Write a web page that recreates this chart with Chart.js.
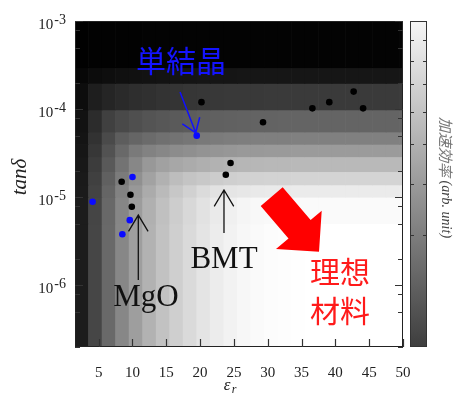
<!DOCTYPE html>
<html>
<head>
<meta charset="utf-8">
<script src="https://cdn.jsdelivr.net/npm/chart.js@4/dist/chart.umd.min.js"></script>
<style>html,body{margin:0;padding:0;background:#fff;}</style>
</head>
<body>
<canvas id="chart" width="461" height="397"></canvas>
<script>
// map cells: eps_r columns (2 wide) and tan-delta rows, grey level
const colCenters = [2.5, 4.5, 6.5, 8.5, 10.5, 12.5, 14.5, 16.5, 18.5, 20.5, 22.5, 24.5, 26.5,
                    28.5, 30.5, 32.5, 34.5, 36.5, 38.5, 40.5, 42.5, 44.5, 46.5, 48.5, 50.5];
const colLevel = [28, 70, 105, 135, 158, 178, 194, 207, 218, 228, 236, 242, 247,
                  250, 252, 253, 254, 255, 255, 255, 255, 255, 255, 255, 255];
const rowTop = [1e-3, 2.95e-4, 1.95e-4, 9.8e-5, 5.5e-5, 3.98e-5, 2.88e-5, 1.95e-5, 1.38e-5, 1e-5, 5e-6];
const rowLevel = [3, 22, 58, 100, 128, 155, 185, 212, 235, 250, 255];

// measured materials
const blackEps = [20.2, 24.5, 23.8, 8.4, 9.7, 9.9, 29.3, 36.6, 39.1, 42.7, 44.1];
const blackTan = [1.2e-4, 2.45e-5, 1.8e-5, 1.5e-5, 1.07e-5, 7.8e-6, 7.1e-5, 1.02e-4, 1.2e-4, 1.58e-4, 1.02e-4];
const blueEps = [19.5, 10.0, 4.1, 9.6, 8.5];
const blueTan = [5.0e-5, 1.7e-5, 8.9e-6, 5.5e-6, 3.8e-6];

// axes
const xTicks = [5, 10, 15, 20, 25, 30, 35, 40, 45, 50];
const yMajor = [1e-6, 1e-5, 1e-4, 1e-3];
const yMinor = [2e-7, 5e-7, 8e-7, 2e-6, 5e-6, 8e-6, 2e-5, 5e-5, 8e-5, 2e-4, 5e-4, 8e-4];
const cbTicks = [3, 4, 5, 6, 7, 8, 9];
const cbGrey = [62, 246]; // bottom, top

const X_MIN = 1.5, X_MAX = 50, Y_MIN = 2e-7, Y_MAX = 1e-3;

function grey(v) {
    v = Math.round(v);
    return `rgb(${v},${v},${v})`;
}

// a cell is limited by the darker of its column / row level
function cellLevel(c, r) {
    return Math.min(c, r) * Math.sqrt(Math.max(c, r) / 255);
}

const datasets = [];

datasets.push({
    type: 'scatter',
    data: blackEps.map((e, i) => ({x: e, y: blackTan[i]})),
    backgroundColor: '#000',
    borderWidth: 0,
    pointRadius: 3.3,
    order: 0
});
datasets.push({
    type: 'scatter',
    data: blueEps.map((e, i) => ({x: e, y: blueTan[i]})),
    backgroundColor: '#0a0aff',
    borderWidth: 0,
    pointRadius: 3.3,
    order: 0
});

rowTop.forEach((top, j) => {
    const bottom = j + 1 < rowTop.length ? rowTop[j + 1] : Y_MIN;
    datasets.push({
        type: 'bar',
        data: colCenters.map(x => ({x: x, y: [bottom, top]})),
        backgroundColor: colLevel.map(c => grey(cellLevel(c, rowLevel[j]))),
        borderWidth: 0,
        barPercentage: 1,
        categoryPercentage: 1,
        grouped: false,
        order: 5
    });
});

// annotations, in (eps_r, log10 tan-delta)
const redArrow = [[28.96, -5.100], [32.21, -4.887], [36.34, -5.259], [37.98, -5.153],
                  [37.58, -5.618], [31.22, -5.588], [33.07, -5.468]];

const decor = {
    id: 'decor',
    afterDatasetsDraw(chart) {
        const {ctx, chartArea: a, scales} = chart;
        const x = scales.x, y = scales.y, cb = scales.cb;
        const P = (e, l) => [x.getPixelForValue(e), y.getPixelForValue(Math.pow(10, l))];

        ctx.save();
        // frame
        ctx.strokeStyle = '#222';
        ctx.lineWidth = 1;
        ctx.strokeRect(a.left + 0.5, a.top + 0.5, a.right - a.left - 1, a.bottom - a.top - 1);

        // y ticks, inward on both sides
        const yTick = (v, len) => {
            const py = Math.round(y.getPixelForValue(v)) + 0.5;
            ctx.beginPath();
            ctx.moveTo(a.left, py); ctx.lineTo(a.left + len, py);
            ctx.moveTo(a.right, py); ctx.lineTo(a.right - len, py);
            ctx.stroke();
        };
        ctx.strokeStyle = '#333';
        ctx.lineWidth = 1.2;
        yMajor.forEach(v => yTick(v, 8));
        yMinor.forEach(v => yTick(v, 5));
        xTicks.forEach(v => {
            const px = Math.round(x.getPixelForValue(v)) + 0.5;
            ctx.beginPath();
            ctx.moveTo(px, a.bottom); ctx.lineTo(px, a.bottom - 8);
            ctx.stroke();
        });

        // tick labels
        ctx.fillStyle = '#222';
        ctx.textAlign = 'right';
        ctx.textBaseline = 'alphabetic';
        yMajor.forEach(v => {
            const py = y.getPixelForValue(v);
            const exp = String(Math.round(Math.log10(v)));
            ctx.font = '14px "Liberation Serif"';
            const ew = ctx.measureText(exp).width;
            ctx.fillText(exp, 66, py + 3);
            ctx.font = '15px "Liberation Serif"';
            ctx.fillText('10', 65 - ew, py + 7.5);
        });
        ctx.textAlign = 'center';
        ctx.font = '15px "Liberation Serif"';
        xTicks.forEach(v => ctx.fillText(String(v), x.getPixelForValue(v), 377));

        // axis titles
        ctx.font = 'italic 17px "Liberation Serif"';
        ctx.fillText('\u03b5', 227, 390);
        ctx.font = 'italic 12px "Liberation Serif"';
        ctx.fillText('r', 234, 393);
        ctx.save();
        ctx.translate(26, 177);
        ctx.rotate(-Math.PI / 2);
        ctx.font = 'italic 21px "Liberation Serif"';
        ctx.fillText('tan\u03b4', 0, 0);
        ctx.restore();

        // colour bar
        const cbl = 410, cbw = 17;
        const g = ctx.createLinearGradient(0, a.bottom, 0, a.top);
        g.addColorStop(0, grey(cbGrey[0]));
        g.addColorStop(1, grey(cbGrey[1]));
        ctx.fillStyle = g;
        ctx.fillRect(cbl, a.top, cbw, a.bottom - a.top);
        ctx.strokeStyle = '#333';
        ctx.lineWidth = 1;
        ctx.strokeRect(cbl + 0.5, a.top + 0.5, cbw - 1, a.bottom - a.top - 1);
        cbTicks.forEach(v => {
            const py = Math.round(cb.getPixelForValue(v)) + 0.5;
            ctx.beginPath();
            ctx.moveTo(cbl, py); ctx.lineTo(cbl + 4, py);
            ctx.moveTo(cbl + cbw, py); ctx.lineTo(cbl + cbw - 4, py);
            ctx.stroke();
        });
        ctx.save();
        ctx.translate(446, 117);
        ctx.rotate(Math.PI / 2);
        ctx.textAlign = 'left';
        ctx.textBaseline = 'middle';
        ctx.fillStyle = '#777';
        ctx.font = 'italic 15px "Noto Sans CJK JP"';
        ctx.fillText('\u52a0\u901f\u52b9\u7387', 0, 0);
        const cw = ctx.measureText('\u52a0\u901f\u52b9\u7387').width;
        ctx.fillStyle = '#444';
        ctx.font = 'italic 14px "Liberation Serif"';
        ctx.fillText(' (arb. unit)', cw, 0);
        ctx.restore();

        // black arrows (MgO, BMT) and blue arrow
        const arrow = (t, f, col, w, len, ang) => {
            ctx.strokeStyle = col;
            ctx.lineWidth = w;
            ctx.beginPath();
            ctx.moveTo(f[0], f[1]); ctx.lineTo(t[0], t[1]);
            const th = Math.atan2(f[1] - t[1], f[0] - t[0]);
            ctx.moveTo(t[0] + len * Math.cos(th + ang), t[1] + len * Math.sin(th + ang));
            ctx.lineTo(t[0], t[1]);
            ctx.lineTo(t[0] + len * Math.cos(th - ang), t[1] + len * Math.sin(th - ang));
            ctx.stroke();
        };
        arrow(P(10.86, -5.202), P(10.86, -5.939), '#111', 1.3, 19, 0.54);
        arrow(P(23.53, -4.918), P(23.53, -5.406), '#111', 1.3, 19, 0.54);
        arrow(P(19.35, -4.268), P(17.03, -3.806), '#1010ff', 1.5, 16, 0.62);

        ctx.fillStyle = '#111';
        ctx.textAlign = 'center';
        ctx.textBaseline = 'alphabetic';
        ctx.font = '31px "Liberation Serif"';
        let p = P(12.0, -6.235);
        ctx.fillText('MgO', p[0], p[1]);
        p = P(23.53, -5.803);
        ctx.fillText('BMT', p[0], p[1]);

        ctx.textBaseline = 'middle';
        ctx.font = '30px "Noto Sans CJK JP"';
        ctx.fillStyle = '#1414ff';
        p = P(17.17, -3.454);
        ctx.fillText('\u5358\u7d50\u6676', p[0], p[1]);

        ctx.fillStyle = '#ff1a1a';
        p = P(40.68, -5.849);
        ctx.fillText('\u7406\u60f3', p[0], p[1]);
        p = P(40.68, -6.291);
        ctx.fillText('\u6750\u6599', p[0], p[1]);

        ctx.fillStyle = '#ff0000';
        ctx.beginPath();
        redArrow.forEach((q, i) => {
            const r = P(q[0], q[1]);
            if (i === 0) ctx.moveTo(r[0], r[1]); else ctx.lineTo(r[0], r[1]);
        });
        ctx.closePath();
        ctx.fill();
        ctx.restore();
    }
};

new Chart(document.getElementById('chart').getContext('2d'), {
    type: 'scatter',
    data: {datasets: datasets},
    options: {
        responsive: false,
        animation: false,
        layout: {padding: {left: 75, top: 21, right: 58, bottom: 50}},
        plugins: {legend: {display: false}, tooltip: {enabled: false}},
        scales: {
            x: {
                type: 'linear', min: X_MIN, max: X_MAX, offset: false, display: false,
                afterBuildTicks: s => { s.ticks = xTicks.map(v => ({value: v})); }
            },
            y: {
                type: 'logarithmic', min: Y_MIN, max: Y_MAX, display: false,
                afterBuildTicks: s => { s.ticks = yMajor.map(v => ({value: v})); }
            },
            cb: {
                type: 'logarithmic', axis: 'y', position: 'right', min: 1.6, max: 10, display: false
            }
        }
    },
    plugins: [decor]
});
</script>
</body>
</html>
